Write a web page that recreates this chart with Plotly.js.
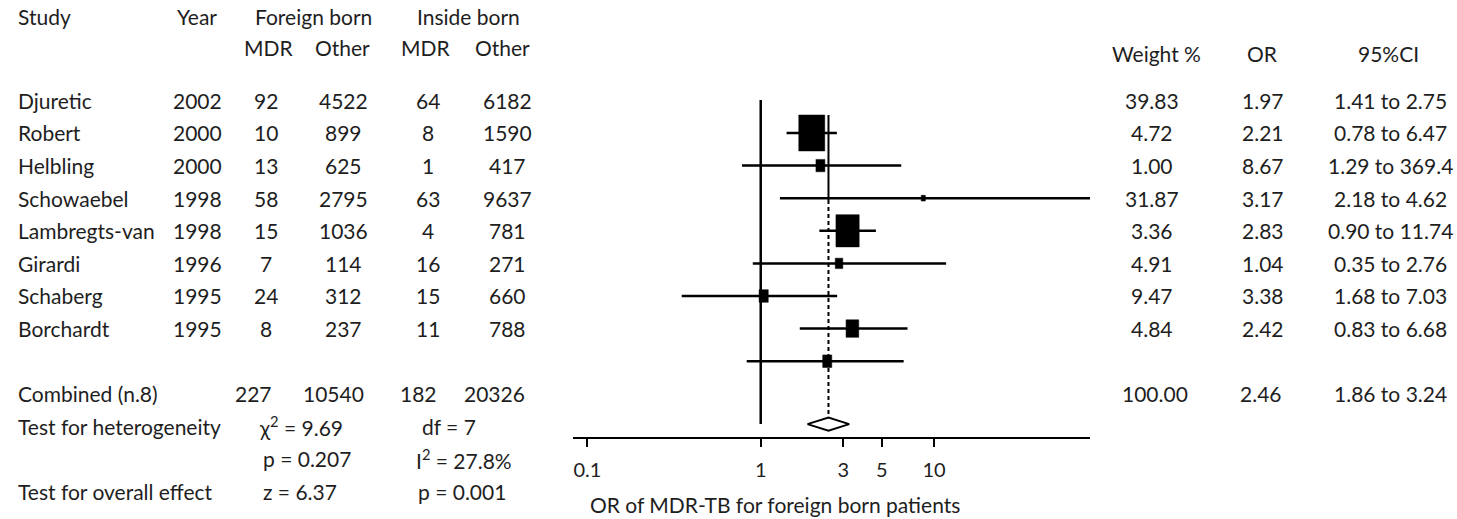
<!DOCTYPE html>
<html><head><meta charset="utf-8">
<script src="https://cdn.plot.ly/plotly-3.0.1.min.js"></script>
<style>html,body{margin:0;padding:0;background:#fff}#chart{width:1457px;height:519px}</style>
</head><body><div id="chart"></div>
<script>
// ---------- data ----------
const studies = ['Djuretic','Robert','Helbling','Schowaebel','Lambregts-van','Girardi','Schaberg','Borchardt'];
const years = [2002,2000,2000,1998,1998,1996,1995,1995];
const foreignMDR = [92,10,13,58,15,7,24,8];
const foreignOther = [4522,899,625,2795,1036,114,312,237];
const insideMDR = [64,8,1,63,4,16,15,11];
const insideOther = [6182,1590,417,9637,781,271,660,788];
const weights = [39.83,4.72,1.00,31.87,3.36,4.91,9.47,4.84];
const oddsRatios = [1.97,2.21,8.67,3.17,2.83,1.04,3.38,2.42];
const ciLower = [1.41,0.78,1.29,2.18,0.90,0.35,1.68,0.83];
const ciUpper = [2.75,6.47,369.4,4.62,11.74,2.76,7.03,6.68];
const combinedLabel = 'Combined (n.8)';
const combinedCounts = [227,10540,182,20326];
const combinedWeight = 100.00;
const combinedOR = 2.46;
const combinedCI = [1.86,3.24];
const chiSquare = 9.69, degFree = 7, pHetero = 0.207, iSquare = 27.8;
const zOverall = 6.37, pOverall = 0.001;
const tickVals = [0.1,1,3,5,10];
const tickText = ['0.1','1','3','5','10'];
const axisTitle = 'OR of MDR-TB for foreign born patients';

// ---------- layout geometry ----------
const W = 1457, H = 519;
const plotLeft = 572.7, plotRight = 1090, plotTop = 100, plotBottom = 436.7;
const xRange = [-1.085, 1.900];
const yRange = [9.316, -1.012];
const pxPerDecade = (plotRight - plotLeft) / (xRange[1] - xRange[0]);
const pxPerRow = (plotBottom - plotTop) / (yRange[0] - yRange[1]);
const px = v => v / W;
const rowPx = idx => plotTop + (idx - yRange[1]) * pxPerRow;
const FONT = 'Lato, "Open Sans", sans-serif';
const TXT = '#1e1e1e';
const FS = 21;

const fmtCI = v => v >= 100 ? v.toFixed(1) : v.toFixed(2);

// ---------- traces ----------
const ciX = [], ciY = [];
studies.forEach((s, i) => { ciX.push(ciLower[i], ciUpper[i], null); ciY.push(i, i, null); });

const boxX = [], boxY = [];
studies.forEach((s, i) => {
  const r = Math.sqrt(weights[i]);
  const hw = 4.12 * r / 2 / pxPerDecade;
  const hh = 5.7 * r / 2 / pxPerRow;
  const a = oddsRatios[i] * Math.pow(10, -hw), b = oddsRatios[i] * Math.pow(10, hw);
  boxX.push(a, b, b, a, a, null);
  boxY.push(i - hh, i - hh, i + hh, i + hh, i - hh, null);
});

const diamondY = 8.93, dh = 0.2;
const traces = [
  {x: ciX, y: ciY, mode: 'lines', line: {color: '#000', width: 2.5}, hoverinfo: 'skip'},
  {x: boxX, y: boxY, mode: 'lines', fill: 'toself', fillcolor: '#000', line: {color: '#000', width: 0.5}, hoverinfo: 'skip'},
  {x: [1, 1], y: [yRange[1], diamondY], mode: 'lines', line: {color: '#000', width: 2.5}, hoverinfo: 'skip'},
  {x: [combinedOR, combinedOR], y: [-0.552, 2.055], mode: 'lines', line: {color: '#000', width: 2}, hoverinfo: 'skip'},
  {x: [combinedOR, combinedOR], y: [2.055, diamondY - dh], mode: 'lines', line: {color: '#000', width: 2, dash: '4px,3px'}, hoverinfo: 'skip'},
  {x: [combinedCI[0], combinedOR, combinedCI[1], combinedOR, combinedCI[0]],
   y: [diamondY, diamondY - dh, diamondY, diamondY + dh, diamondY],
   mode: 'lines', fill: 'toself', fillcolor: '#fff', line: {color: '#000', width: 2}, hoverinfo: 'skip'}
];

// ---------- text (paper coordinates) ----------
const ann = [];
function t(text, xpx, ypx, anchor, size) {
  ann.push({text: text, x: px(xpx), xref: 'paper', y: 1 - ypx / H, yref: 'paper',
    xanchor: anchor, yanchor: 'middle', showarrow: false,
    font: {family: FONT, size: size || FS, color: TXT}});
}
// headers
const h1 = 17, h2 = 47, hr = 53;
t('Study', 16, h1, 'left');
t('Year', 197, h1, 'center');
t('Foreign born', 313, h1, 'center');
t('Inside born', 468, h1, 'center');
t('MDR', 268, h2, 'center');
t('Other', 342, h2, 'center');
t('MDR', 425, h2, 'center');
t('Other', 502, h2, 'center');
t('Weight %', 1156, hr, 'center');
t('OR', 1262, hr, 'center');
t('95%CI', 1388, hr, 'center');
// study rows (table sits one row above the matching plot row)
studies.forEach((s, k) => {
  const y = rowPx(k - 1);
  t(s, 16, y, 'left');
  t(String(years[k]), 197, y, 'center');
  t(String(foreignMDR[k]), 266, y, 'center');
  t(String(foreignOther[k]), 343, y, 'center');
  t(String(insideMDR[k]), 428, y, 'center');
  t(String(insideOther[k]), 508, y, 'center');
  t(weights[k].toFixed(2), 1152, y, 'center');
  t(oddsRatios[k].toFixed(2), 1263, y, 'center');
  t(fmtCI(ciLower[k]) + ' to ' + fmtCI(ciUpper[k]), 1390, y, 'center');
});
// combined & tests
const yc = rowPx(8), yh = rowPx(9), yp = rowPx(10), yo = rowPx(11);
t(combinedLabel, 16, yc, 'left');
t(String(combinedCounts[0]), 254, yc, 'center');
t(String(combinedCounts[1]), 333, yc, 'center');
t(String(combinedCounts[2]), 418, yc, 'center');
t(String(combinedCounts[3]), 494, yc, 'center');
t(combinedWeight.toFixed(2), 1155, yc, 'center');
t(combinedOR.toFixed(2), 1261, yc, 'center');
t(fmtCI(combinedCI[0]) + ' to ' + fmtCI(combinedCI[1]), 1390, yc, 'center');
t('Test for heterogeneity', 16, yh, 'left');
t('χ<sup>2</sup> = ' + chiSquare.toFixed(2), 257, yh, 'left');
t('df = ' + degFree, 420, yh, 'left');
t('p = ' + pHetero.toFixed(3), 261, yp, 'left');
t('I<sup>2</sup> = ' + iSquare.toFixed(1) + '%', 414, yp, 'left');
t('Test for overall effect', 16, yo, 'left');
t('z = ' + zOverall.toFixed(2), 261, yo, 'left');
t('p = ' + pOverall.toFixed(3), 416, yo, 'left');
// axis title
t(axisTitle, 588, 504, 'left', 21);

const xDomain = [px(plotLeft), px(plotRight)];
const layout = {
  width: W, height: H,
  margin: {l: 0, r: 0, t: 0, b: 0},
  paper_bgcolor: '#fff', plot_bgcolor: '#fff',
  showlegend: false, hovermode: false,
  font: {family: FONT, size: FS, color: TXT},
  xaxis: {type: 'log', range: xRange, domain: xDomain, anchor: 'y',
    showgrid: false, zeroline: false, showline: true, linecolor: '#000', linewidth: 2,
    ticks: 'outside', ticklen: 8, tickwidth: 2, tickcolor: '#000',
    tickmode: 'array', tickvals: tickVals, ticktext: tickText,
    tickfont: {family: FONT, size: 20, color: TXT}, ticklabelstandoff: 6},
  xaxis2: {type: 'log', range: xRange, domain: xDomain, anchor: 'y', overlaying: 'x',
    showgrid: false, zeroline: false, showline: false,
    ticks: 'inside', ticklen: 4, tickwidth: 2, tickcolor: '#000',
    tickmode: 'array', tickvals: tickVals, showticklabels: false},
  yaxis: {range: yRange, domain: [1 - plotBottom / H, 1 - plotTop / H], visible: false},
  annotations: ann
};
Plotly.newPlot('chart', traces, layout, {staticPlot: true, displayModeBar: false});
</script></body></html>
